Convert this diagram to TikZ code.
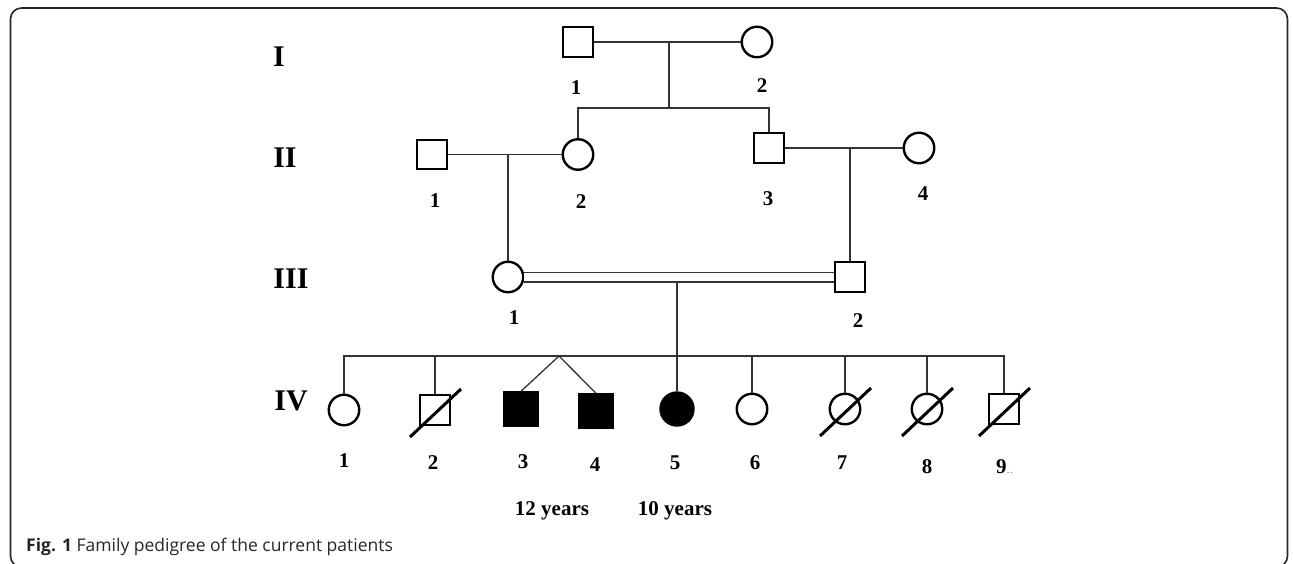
\documentclass[tikz,border=0pt]{standalone}
\usepackage{fontspec}
\setmainfont{Liberation Serif}
\setsansfont{Open Sans}
\usetikzlibrary{calc}

\begin{document}
\begin{tikzpicture}[x=1pt,y=-1pt]
\tikzstyle{male}=[draw,line width=2.4pt,rectangle,minimum size=29.5pt,inner sep=0pt]
\tikzstyle{female}=[draw,line width=2.4pt,circle,minimum size=30.5pt,inner sep=0pt]
\tikzstyle{affected}=[fill=black,minimum size=33pt]
\tikzstyle{link}=[line width=1.3pt,draw=black!80]
\tikzstyle{deceased}=[line width=3pt]
\tikzstyle{num}=[inner sep=0pt,font=\fontsize{21}{21}\selectfont\bfseries]
\tikzstyle{gen}=[inner sep=0pt,font=\fontsize{30}{30}\selectfont\bfseries]

\useasboundingbox (0,0) rectangle (1293,563);
\clip (0,0) rectangle (1293,563);
\draw[line width=1.6pt,black!85,rounded corners=11pt] (10.5,8) rectangle (1287.5,567);

\node[gen] (gI) at (279,57) {I};
\node[gen] (gII) at (285,158) {II};
\node[gen] (gIII) at (291,279) {III};
\node[gen] (gIV) at (291,401) {IV};

\node[male] (I1) at (578,42) {};
\node[female] (I2) at (757,42) {};
\node[male] (II1) at (432,154.5) {};
\node[female] (II2) at (578,154.5) {};
\node[male] (II3) at (769,148) {};
\node[female] (II4) at (919,148) {};
\node[female] (III1) at (508,277) {};
\node[male] (III2) at (850,277) {};
\node[female] (IV1) at (344,410) {};
\node[male] (IV2) at (435,410) {};
\node[male,affected] (IV3) at (521,409) {};
\node[male,affected] (IV4) at (596,411) {};
\node[female,affected] (IV5) at (677,409) {};
\node[female] (IV6) at (752,409) {};
\node[female] (IV7) at (845,409) {};
\node[female] (IV8) at (927,409) {};
\node[male] (IV9) at (1004,409) {};

\coordinate (mI) at (669,42);
\coordinate (sI) at (669,108);
\coordinate (mII) at (508,154.5);
\coordinate (mIIb) at (850,148);
\coordinate (mIII) at (677,282);
\coordinate (sIII) at (677,356);
\coordinate (tw) at (559,356);

\draw[link] (I1) -- (I2);
\draw[link] (mI) -- (sI);
\draw[link] (II2.north) |- (sI) -| (II3.north);
\draw[link] (II1) -- (II2);
\draw[link] (mII) -- (III1);
\draw[link] (II3) -- (II4);
\draw[link] (mIIb) -- (III2);
\draw[link,double,double distance=8.4pt] (III1) -- (III2);
\draw[link] (mIII) -- (IV5);
\draw[link] (IV1.north) |- (sIII) -| (IV9.north);
\foreach \k in {2,6,7,8}
  \draw[link] (IV\k.north |- sIII) -- (IV\k.north);
\draw[link] (IV3.north) -- (tw) -- (IV4.north);

\foreach \k in {2,7,8,9}
  \draw[deceased] ($(IV\k.center)+(-25,27)$) -- ($(IV\k.center)+(26,-21)$);

\node[num] (nI1) at (576,88) {1};
\node[num] (nI2) at (762,86) {2};
\node[num] (nII1) at (435,201) {1};
\node[num] (nII2) at (581,202) {2};
\node[num] (nII3) at (768,199) {3};
\node[num] (nII4) at (923,194) {4};
\node[num] (nIII1) at (514,318) {1};
\node[num] (nIII2) at (858,321) {2};
\node[num] (nIV1) at (344,461) {1};
\node[num] (nIV2) at (433,463) {2};
\node[num] (nIV3) at (523,462) {3};
\node[num] (nIV4) at (595,465) {4};
\node[num] (nIV5) at (675,463) {5};
\node[num] (nIV6) at (755,463) {6};
\node[num] (nIV7) at (842,463) {7};
\node[num] (nIV8) at (927,467) {8};
\node[num,anchor=west] (nIV9) at (996,467) {9\textcolor{black!45}{\fontsize{13}{13}\selectfont\mdseries..}};
\node[num,anchor=base] (age3) at (552,515) {12 years};
\node[num,anchor=base] (age5) at (675,515) {10 years};

\node[anchor=base west,inner sep=0pt,font=\sffamily\fontsize{17.5}{17.5}\selectfont,text=black!85] (cap) at (26,551) {\textbf{Fig. 1} Family pedigree of the current patients};
\end{tikzpicture}
\end{document}
